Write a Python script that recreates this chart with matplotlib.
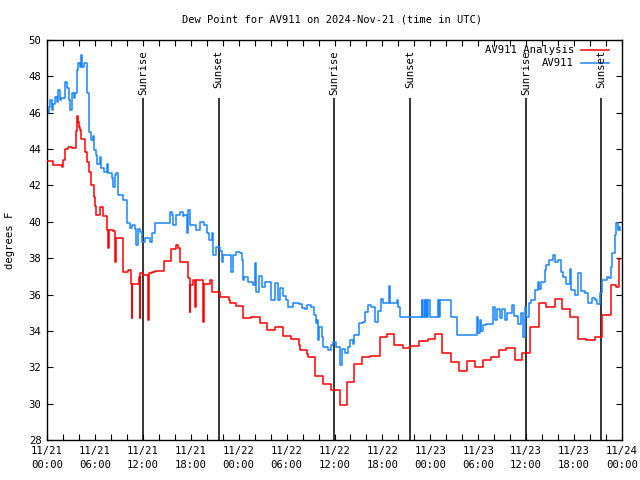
import matplotlib
matplotlib.use("Agg")
import matplotlib.pyplot as plt
import numpy as np

# hours since 2024-11-21 00:00 UTC
red_t = [0.0, 0.8, 1.9, 2.0, 2.3, 2.6, 3.1, 3.6, 3.7, 3.9, 4.0, 4.1, 4.3, 4.7, 5.0, 5.2, 5.5, 5.9, 6.0, 6.1,
         6.6, 7.0, 7.5, 7.65, 7.75, 8.3, 8.55, 8.65, 9.5, 10.2, 10.5, 10.6, 10.7, 11.5, 11.6, 11.7, 12.0, 12.7,
         12.8, 13.1, 13.5, 14.6, 15.5, 16.1, 16.4, 16.7, 17.6, 17.85, 17.95, 18.3, 18.5, 18.6, 19.55, 19.65,
         20.4, 20.6, 21.3, 21.6, 22.6, 22.8, 22.9, 23.7, 23.9, 24.6, 25.6, 26.7, 27.6, 28.6, 29.6, 30.6, 31.6,
         31.7, 32.5, 32.7, 33.5, 34.6, 35.6, 36.7, 37.6, 38.5, 39.5, 40.5, 41.7, 42.6, 43.5, 44.6, 45.5, 46.6,
         47.7, 48.6, 49.5, 50.6, 51.6, 52.6, 53.6, 54.6, 55.6, 56.6, 57.5, 58.6, 59.5, 60.5, 61.6, 62.5, 63.6,
         64.5, 65.5, 66.5, 67.5, 68.6, 69.5, 70.6, 71.3, 71.6, 71.75]
red_v = [43.34, 43.1, 43.0, 43.4, 44.0, 44.1, 44.06, 45.0, 45.8, 45.5, 45.2, 45.05, 44.55, 43.86, 43.3, 42.76,
         42.0, 41.38, 40.87, 40.37, 40.83, 40.34, 39.55, 38.55, 39.55, 39.5, 37.8, 39.1, 37.26, 37.35, 36.6,
         34.7, 36.6, 36.98, 34.7, 37.2, 37.1, 34.6, 37.17, 37.26, 37.3, 37.86, 38.49, 38.72, 38.54, 37.8, 36.89,
         35.06, 36.52, 36.8, 35.33, 36.8, 34.5, 36.6, 36.8, 36.16, 36.12, 35.88, 35.85, 35.7, 35.55, 35.37,
         35.37, 34.69, 34.78, 34.45, 34.05, 34.23, 33.7, 33.55, 33.22, 32.95, 32.73, 32.55, 31.53, 31.08, 30.75,
         29.92, 31.2, 32.16, 32.58, 32.64, 33.65, 33.83, 33.22, 33.04, 33.17, 33.44, 33.54, 33.83, 32.8, 32.31,
         31.79, 32.34, 32.03, 32.38, 32.58, 32.95, 33.08, 32.4, 32.77, 34.23, 35.51, 35.29, 35.73, 35.18, 34.75,
         33.54, 33.5, 33.68, 34.86, 36.51, 36.4, 37.94, 37.94]

blue_t = [0.0, 0.2, 0.4, 0.6, 0.8, 1.0, 1.2, 1.4, 1.6, 1.8, 2.2, 2.5, 2.7, 2.9, 3.1, 3.4, 3.5, 3.7, 3.9, 4.1,
          4.2, 4.4, 4.6, 5.0, 5.2, 5.3, 5.5, 5.7, 5.9, 6.1, 6.3, 6.6, 6.8, 7.1, 7.5, 7.7, 8.1, 8.3, 8.5, 8.7,
          8.9, 9.5, 10.0, 10.4, 10.7, 11.0, 11.2, 11.4, 11.6, 11.9, 12.3, 12.9, 13.1, 13.5, 15.2, 15.4, 15.6,
          15.8, 16.2, 16.6, 17.0, 17.2, 17.5, 17.7, 17.9, 18.3, 18.7, 19.1, 19.6, 20.0, 20.3, 20.6, 20.8, 21.2,
          21.6, 21.9, 22.1, 22.9, 23.1, 23.3, 23.7, 24.2, 24.4, 24.6, 24.7, 25.2, 25.8, 26.1, 26.2, 26.5, 26.9,
          27.3, 27.7, 28.0, 28.5, 28.9, 29.2, 29.6, 29.9, 30.2, 30.8, 31.5, 31.9, 32.3, 32.6, 33.1, 33.4, 33.7,
          33.85, 33.95, 34.1, 34.4, 34.6, 35.2, 35.6, 35.8, 36.2, 36.7, 36.9, 37.3, 37.7, 37.9, 38.3, 38.5, 39.1,
          39.6, 39.8, 40.2, 40.6, 41.1, 41.5, 41.8, 42.1, 42.85, 42.95, 43.8, 44.0, 44.2, 46.9, 47.0, 47.2,
          47.35, 47.5, 47.6, 47.75, 47.9, 48.1, 48.95, 49.05, 49.15, 50.6, 51.3, 53.6, 53.8, 54.0,
          54.2, 54.4, 54.6, 55.0, 55.9, 56.1, 56.4, 56.7, 57.0, 57.3, 57.6, 58.2, 58.5, 59.0, 59.4, 59.6, 59.8,
          60.0, 60.4, 60.6, 61.1, 61.5, 61.6, 61.9, 62.3, 62.5, 62.9, 63.3, 63.6, 64.0, 64.3, 64.6, 65.0, 65.5,
          65.6, 66.1, 66.5, 66.9, 67.4, 67.8, 68.2, 68.6, 68.9, 69.3, 69.5, 70.1, 70.4, 70.6, 70.8, 71.1, 71.3,
          71.5, 71.6, 71.75]
blue_v = [45.97, 46.3, 46.7, 46.15, 46.5, 46.88, 46.6, 47.25, 46.7, 46.8, 47.7, 47.34, 46.7, 46.15, 47.07,
          46.8, 47.07, 48.35, 48.72, 48.5, 49.17, 48.53, 48.75, 47.1, 46.24, 44.96, 44.5, 44.7, 43.95, 43.67,
          43.2, 43.58, 42.94, 42.76, 43.2, 42.7, 42.39, 41.93, 42.6, 42.7, 41.47, 41.2, 39.92, 39.64, 39.8,
          39.6, 38.72, 39.6, 39.46, 38.91, 39.09, 38.91, 39.37, 39.92, 39.92, 40.56, 40.4, 39.82, 40.4, 40.56,
          40.3, 40.4, 39.37, 40.65, 39.8, 39.8, 39.55, 40.0, 39.8, 39.37, 39.0, 39.37, 38.17, 38.63, 38.4, 37.8,
          38.17, 38.2, 37.26, 38.2, 38.35, 38.3, 37.9, 36.8, 36.95, 36.71, 36.52, 37.72, 36.16, 37.0, 36.43,
          36.7, 36.7, 35.7, 36.65, 35.7, 36.34, 35.9, 35.7, 35.29, 35.55, 35.5, 35.24, 35.2, 35.4, 35.3, 34.87,
          34.42, 34.6, 33.5, 34.23, 33.68, 33.13, 32.95, 33.22, 33.37, 33.1, 32.12, 33.0, 32.77, 33.13, 33.5,
          33.3, 33.77, 34.42, 34.5, 35.06, 35.42, 35.3, 34.5, 35.1, 35.73, 35.51, 36.47, 35.51, 35.7, 35.3,
          34.78, 35.7, 34.78, 35.7, 34.78, 35.7, 34.78, 35.7, 34.78, 34.78, 35.7, 34.78, 35.7, 34.78,
          33.77, 33.77, 34.78, 33.9, 34.6, 34.0, 34.3, 34.4, 35.3, 34.6, 35.2, 34.7, 35.2, 34.6,
          35.0, 35.4, 34.8, 34.4, 35.0, 33.68, 35.33, 34.78, 35.51, 35.7, 36.25, 36.71, 36.3, 36.71, 37.35,
          37.62, 37.9, 38.17, 37.8, 37.9, 37.26, 36.98, 36.6, 37.4, 36.25, 35.97, 37.17, 36.2, 36.1, 35.51,
          35.79, 35.7, 35.5, 36.07, 36.8, 36.98, 36.9, 37.53, 38.27, 39.27, 39.92, 39.55, 39.7, 39.55]

sunrise = [12.0, 35.95, 60.0]
sunset = [21.5, 45.5, 69.4]

tick_hours = list(range(0, 73, 6))
tick_labels = ["11/21\n00:00", "11/21\n06:00", "11/21\n12:00", "11/21\n18:00",
               "11/22\n00:00", "11/22\n06:00", "11/22\n12:00", "11/22\n18:00",
               "11/23\n00:00", "11/23\n06:00", "11/23\n12:00", "11/23\n18:00",
               "11/24\n00:00"]

plt.rcParams['font.family'] = ['DejaVu Sans Mono']
FS = 7.3

fig = plt.figure(figsize=(6.4, 4.8), dpi=100)
ax = fig.add_axes([47/640, 1-440/480, 575/640, 400/480])

RED = '#ff0000'
BLUE = '#1a85ff'

for x in sunrise:
    ax.vlines(x, 28, 46.8, color='black', lw=1.1, zorder=1)
    ax.text(x, 49.45, 'Sunrise', rotation=90, ha='center', va='top', fontsize=FS + 0.4)
for x in sunset:
    ax.vlines(x, 28, 46.8, color='black', lw=1.1, zorder=1)
    ax.text(x, 49.45, 'Sunset', rotation=90, ha='center', va='top', fontsize=FS + 0.4)

ax.plot(red_t, red_v, drawstyle='steps-post', color=RED, lw=1.1, zorder=3)
ax.plot(blue_t, blue_v, drawstyle='steps-post', color=BLUE, lw=1.1, zorder=2)

# legend (gnuplot style: text then sample)
ax.text(0.9165, 0.975, 'AV911 Analysis', transform=ax.transAxes, ha='right', va='center', fontsize=FS + 0.4)
ax.plot([0.9287, 0.9774], [0.975, 0.975], transform=ax.transAxes, color=RED, lw=1.1)
ax.text(0.9165, 0.943, 'AV911', transform=ax.transAxes, ha='right', va='center', fontsize=FS + 0.4)
ax.plot([0.9287, 0.9774], [0.943, 0.943], transform=ax.transAxes, color=BLUE, lw=1.1)

ax.set_xlim(0, 72)
ax.set_ylim(28, 50)
ax.set_xticks(tick_hours)
ax.set_xticklabels(tick_labels, linespacing=1.6)
ax.set_xticks(list(range(0, 73, 2)), minor=True)
ax.set_yticks(list(range(28, 51, 2)))
ax.tick_params(which='both', direction='in', top=True, right=True, length=4, width=0.8, labelsize=FS + 0.4, pad=4)
for s in ax.spines.values():
    s.set_linewidth(1.0)

ax.set_ylabel('degrees F', fontsize=FS + 0.4, labelpad=10)
fig.text(332/640, 1-20/480, 'Dew Point for AV911 on 2024-Nov-21 (time in UTC)', ha='center', va='center', fontsize=FS + 0.2)

fig.savefig('out.png', dpi=100)
